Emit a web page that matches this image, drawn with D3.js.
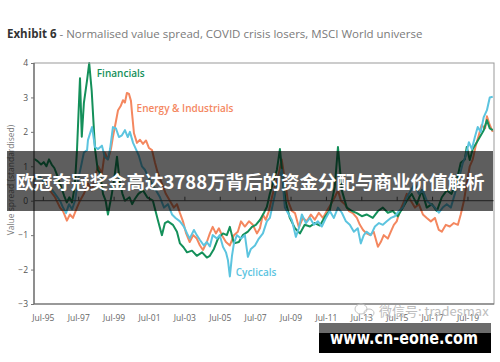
<!DOCTYPE html>
<html>
<head>
<meta charset="utf-8">
<script src="https://cdn.jsdelivr.net/npm/d3@7"></script>
<style>
body{margin:0;background:#fff;}
svg{display:block;font-family:"Open Sans",Lato,sans-serif;}
</style>
</head>
<body>
<svg id="chart" width="500" height="362"></svg>
<script>
// x ticks: July of odd years
var tickYears = [1995.5,1997.5,1999.5,2001.5,2003.5,2005.5,2007.5,2009.5,2011.5,2013.5,2015.5,2017.5,2019.5]
var tickLabels = ["Jul-95","Jul-97","Jul-99","Jul-01","Jul-03","Jul-05","Jul-07","Jul-09","Jul-11","Jul-13","Jul-15","Jul-17","Jul-19"]
var yTicks = [-3,-2,-1,0,1,2,3,4]

// [year, standardised value spread]
var financials = [[1995.0,1.22],[1995.2,1.15],[1995.4,1.05],[1995.55,1.12],[1995.7,1.0],[1995.85,1.2],[1996.0,1.05],[1996.15,0.95],[1996.3,0.75],[1996.5,0.45],[1996.7,0.15],[1996.85,-0.05],[1997.0,0.1],[1997.15,-0.05],[1997.3,0.4],[1997.43,1.47],[1997.6,3.56],[1997.7,1.86],[1997.82,2.84],[1998.0,3.5],[1998.12,4.0],[1998.26,3.2],[1998.45,1.5],[1998.6,0.9],[1998.73,0.8],[1998.9,0.2],[1999.05,0.0],[1999.18,-0.4],[1999.4,0.2],[1999.55,0.7],[1999.69,1.28],[1999.86,0.5],[2000.0,0.2],[2000.14,0.0],[2000.4,0.1],[2000.55,-0.1],[2000.7,0.05],[2000.9,0.2],[2001.16,0.3],[2001.4,0.1],[2001.72,0.0],[2002.0,-0.56],[2002.23,-1.0],[2002.4,-0.65],[2002.57,-0.6],[2002.85,-0.7],[2003.08,-0.9],[2003.25,-1.24],[2003.45,-1.35],[2003.65,-1.5],[2003.93,-1.45],[2004.2,-1.6],[2004.5,-1.5],[2004.77,-1.65],[2004.94,-1.6],[2005.17,-1.4],[2005.4,-1.1],[2005.68,-0.95],[2005.9,-1.0],[2006.07,-0.76],[2006.3,-1.24],[2006.58,-1.2],[2006.8,-1.0],[2007.09,-0.9],[2007.32,-0.76],[2007.54,-0.7],[2007.77,-0.56],[2008.0,-0.35],[2008.16,-0.18],[2008.33,0.2],[2008.56,0.6],[2008.73,0.9],[2008.9,1.5],[2009.07,0.6],[2009.24,-0.07],[2009.46,-0.5],[2009.75,-0.8],[2010.03,-0.95],[2010.3,-0.7],[2010.6,-0.75],[2010.87,-0.65],[2011.16,-0.72],[2011.44,-0.47],[2011.72,-0.27],[2012.0,0.4],[2012.18,1.56],[2012.4,0.3],[2012.68,-0.2],[2012.97,-0.3],[2013.25,-0.36],[2013.53,-0.45],[2013.8,-0.4],[2014.15,-0.5],[2014.44,-0.3],[2014.72,-0.2],[2015.0,-0.35],[2015.28,-0.3],[2015.56,-0.45],[2015.85,-0.2],[2016.07,0.0],[2016.35,0.2],[2016.64,-0.1],[2016.92,0.3],[2017.2,-0.2],[2017.49,-0.1],[2017.77,-0.3],[2018.05,0.1],[2018.33,0.3],[2018.6,0.2],[2018.9,0.6],[2019.12,1.1],[2019.35,1.2],[2019.46,1.56],[2019.63,1.18],[2019.8,1.5],[2020.03,1.7],[2020.2,1.85],[2020.42,2.05],[2020.6,2.34],[2020.76,2.1],[2020.93,2.05]]

var energyIndustrials = [[1995.0,0.5],[1995.34,0.4],[1995.62,0.6],[1995.9,0.3],[1996.19,0.1],[1996.47,-0.2],[1996.64,-0.3],[1996.86,-0.58],[1997.03,-0.4],[1997.2,-0.5],[1997.43,-0.2],[1997.6,0.0],[1997.82,0.2],[1998.05,0.5],[1998.28,0.3],[1998.45,0.7],[1998.62,1.0],[1998.84,0.8],[1999.0,1.4],[1999.18,1.2],[1999.35,1.5],[1999.46,1.85],[1999.63,2.3],[1999.75,2.63],[1999.9,2.75],[2000.03,2.92],[2000.14,2.85],[2000.25,3.13],[2000.37,3.1],[2000.48,2.9],[2000.54,2.55],[2000.65,1.96],[2000.82,1.68],[2000.99,1.77],[2001.16,1.65],[2001.33,1.75],[2001.5,1.53],[2001.67,1.47],[2001.84,1.1],[2002.0,0.8],[2002.23,0.5],[2002.45,0.2],[2002.68,0.0],[2002.9,-0.2],[2003.08,-0.1],[2003.25,-0.36],[2003.42,-0.6],[2003.6,-0.95],[2003.8,-1.2],[2004.0,-1.0],[2004.2,-1.1],[2004.38,-1.3],[2004.55,-1.43],[2004.77,-1.2],[2004.94,-0.95],[2005.1,-0.76],[2005.28,-0.95],[2005.45,-0.8],[2005.62,-1.0],[2005.85,-1.2],[2006.07,-1.3],[2006.3,-1.0],[2006.52,-0.9],[2006.7,-0.6],[2006.92,-0.75],[2007.15,-0.6],[2007.37,-0.7],[2007.6,-0.95],[2007.77,-0.8],[2007.94,-0.4],[2008.1,-0.55],[2008.28,-0.3],[2008.45,0.1],[2008.6,0.4],[2008.84,0.8],[2009.0,1.2],[2009.18,0.6],[2009.35,0.0],[2009.58,-0.3],[2009.75,-0.36],[2009.97,-0.77],[2010.2,-0.5],[2010.42,-0.6],[2010.65,-0.4],[2010.87,-0.55],[2011.1,-0.35],[2011.33,-0.5],[2011.55,-0.3],[2011.78,-0.1],[2012.0,0.1],[2012.18,0.3],[2012.35,0.0],[2012.57,-0.1],[2012.8,-0.3],[2013.02,-0.36],[2013.25,-0.5],[2013.42,-0.7],[2013.6,-0.85],[2013.8,-0.95],[2014.0,-1.0],[2014.2,-0.9],[2014.44,-1.34],[2014.6,-1.2],[2014.77,-1.0],[2015.0,-1.1],[2015.17,-0.9],[2015.34,-0.7],[2015.5,-0.6],[2015.68,-0.3],[2015.85,-0.1],[2016.07,0.2],[2016.3,0.0],[2016.53,-0.2],[2016.75,-0.1],[2016.98,-0.4],[2017.2,-0.5],[2017.43,-0.6],[2017.66,-0.5],[2017.88,-0.85],[2018.05,-0.9],[2018.28,-0.7],[2018.5,-0.75],[2018.73,-0.65],[2018.96,-0.7],[2019.12,-0.4],[2019.3,0.0],[2019.46,0.5],[2019.63,1.0],[2019.8,1.2],[2019.97,1.6],[2020.14,1.9],[2020.3,2.2],[2020.5,2.1],[2020.6,2.45],[2020.76,2.2],[2020.93,2.0]]

var cyclicals = [[1995.0,0.6],[1995.34,0.7],[1995.62,0.5],[1995.9,0.4],[1996.19,0.2],[1996.47,0.0],[1996.64,-0.2],[1996.81,-0.36],[1996.98,-0.1],[1997.15,-0.25],[1997.32,0.0],[1997.49,0.6],[1997.66,1.0],[1997.82,1.4],[1998.0,1.47],[1998.05,1.76],[1998.28,2.14],[1998.45,1.56],[1998.62,1.5],[1998.84,1.6],[1999.0,1.27],[1999.18,1.2],[1999.3,1.5],[1999.46,2.14],[1999.63,2.1],[1999.8,1.85],[1999.97,1.9],[2000.14,2.05],[2000.3,1.85],[2000.42,2.0],[2000.6,1.68],[2000.76,1.5],[2000.93,1.3],[2001.1,1.0],[2001.27,0.9],[2001.44,0.7],[2001.67,0.5],[2001.9,0.3],[2002.12,0.1],[2002.35,-0.2],[2002.57,-0.1],[2002.8,-0.4],[2003.0,-0.5],[2003.25,-0.6],[2003.47,-0.75],[2003.65,-0.95],[2003.8,-1.1],[2004.04,-0.85],[2004.2,-1.0],[2004.38,-1.14],[2004.6,-1.3],[2004.77,-1.2],[2004.94,-1.33],[2005.1,-1.0],[2005.34,-1.1],[2005.5,-1.0],[2005.68,-1.34],[2005.85,-1.5],[2005.96,-1.72],[2006.07,-2.2],[2006.19,-1.6],[2006.3,-1.24],[2006.47,-1.0],[2006.7,-1.1],[2006.92,-1.0],[2007.09,-1.63],[2007.26,-1.4],[2007.49,-1.3],[2007.71,-1.1],[2007.94,-0.95],[2008.16,-0.6],[2008.33,-0.5],[2008.5,-0.1],[2008.67,0.3],[2008.84,0.6],[2009.0,0.9],[2009.18,-0.2],[2009.4,-0.4],[2009.58,-0.57],[2009.8,-1.05],[2009.97,-0.8],[2010.14,-0.4],[2010.37,-0.65],[2010.6,-0.5],[2010.82,-0.7],[2011.05,-0.6],[2011.27,-0.75],[2011.5,-0.5],[2011.72,-0.3],[2011.95,-0.5],[2012.18,-0.2],[2012.4,-0.35],[2012.63,-0.6],[2012.85,-0.7],[2013.08,-0.9],[2013.3,-0.8],[2013.47,-1.24],[2013.64,-1.0],[2013.8,-0.9],[2014.04,-1.0],[2014.27,-0.75],[2014.5,-0.65],[2014.72,-0.7],[2014.94,-0.6],[2015.17,-0.5],[2015.4,-0.45],[2015.62,-0.3],[2015.85,-0.2],[2016.07,0.1],[2016.3,0.3],[2016.53,0.5],[2016.75,0.2],[2016.98,0.3],[2017.2,0.0],[2017.43,-0.1],[2017.66,-0.2],[2017.88,-0.35],[2018.1,-0.2],[2018.33,-0.1],[2018.56,-0.2],[2018.79,0.2],[2019.0,0.6],[2019.24,1.1],[2019.4,1.3],[2019.58,1.7],[2019.75,1.5],[2019.92,1.85],[2020.08,2.14],[2020.25,2.0],[2020.42,2.43],[2020.6,2.63],[2020.76,3.0],[2020.93,3.02]]

var seriesNames = ["Energy & Industrials","Financials","Cyclicals"]

var svg = d3.select("#chart")
var plot = {left:34, right:494, top:63, bottom:304}

var xScale = d3.scaleLinear().domain([1995,2021]).range([plot.left,plot.right])
var yScale = d3.scaleLinear().domain([-3,4]).range([plot.bottom,plot.top])

var colors = {"Financials":"#14905a","Energy & Industrials":"#f4875f","Cyclicals":"#5cc4df"}
var seriesData = {"Financials":financials,"Energy & Industrials":energyIndustrials,"Cyclicals":cyclicals}

// title
var title = svg.append("text")
    .attr("x",7)
    .attr("y",38)
    .attr("font-size",11.5)
title.append("tspan").text("Exhibit 6").attr("font-weight",700).attr("fill","#333")
title.append("tspan").text(" - Normalised value spread, COVID crisis losers, MSCI World universe").attr("fill","#7a7a7a")

// y axis
var yAxis = svg.append("g")
    .attr("transform","translate("+plot.left+",0)")
    .call(d3.axisLeft(yScale).tickValues(yTicks).tickSize(3).tickFormat(d3.format("d")))
yAxis.select(".domain").remove()
yAxis.selectAll("line").attr("stroke","#777")
yAxis.selectAll("text").attr("fill","#555").attr("font-size",8.5).attr("font-family","Open Sans")

svg.append("text")
    .text("Value spread (standardised)")
    .attr("transform","translate(14,"+(yScale(0.6))+") rotate(-90)")
    .attr("text-anchor","middle")
    .attr("font-size",8.5)
    .attr("fill","#777")

// x labels along the bottom
var xLabels = svg.append("g")
    .attr("transform","translate(0,"+plot.bottom+")")
    .call(d3.axisBottom(xScale).tickValues(tickYears).tickSize(0).tickPadding(11)
        .tickFormat(function(d,i){return tickLabels[i]}))
xLabels.select(".domain").remove()
xLabels.selectAll("text").attr("fill","#666").attr("font-size",8.5).attr("font-family","Open Sans")

// lines
var lineGenerator = d3.line()
    .x(function(d){return xScale(d[0])})
    .y(function(d){return yScale(d[1])})

svg.append("g").selectAll("path")
    .data(seriesNames)
    .enter()
    .append("path")
    .attr("d",function(name){return lineGenerator(seriesData[name])})
    .attr("fill","none")
    .attr("stroke",function(name){return colors[name]})
    .attr("stroke-width",2)
    .attr("stroke-linejoin","round")

// zero line with tick marks pointing up
var zeroAxis = svg.append("g")
    .attr("transform","translate(0,"+yScale(0)+")")
    .call(d3.axisBottom(xScale).tickValues(tickYears).tickSize(-4).tickFormat(""))
zeroAxis.select(".domain").attr("stroke","#555").attr("d","M"+plot.left+",0H"+plot.right)
zeroAxis.selectAll("line").attr("stroke","#555")

// plot frame
svg.append("rect")
    .attr("x",plot.left).attr("y",plot.top)
    .attr("width",plot.right-plot.left).attr("height",plot.bottom-plot.top)
    .attr("fill","none").attr("stroke","#999").attr("stroke-width",1)
svg.append("path")
    .attr("d","M"+plot.left+","+plot.top+"V"+plot.bottom+"H"+plot.right)
    .attr("fill","none").attr("stroke","#666").attr("stroke-width",1.2)

// series labels
var labels = [
    {name:"Financials", year:1998.55, value:3.6},
    {name:"Energy & Industrials", year:2000.8, value:2.58},
    {name:"Cyclicals", year:2006.4, value:-2.2}
]
svg.append("g").selectAll("text")
    .data(labels)
    .enter()
    .append("text")
    .text(function(d){return d.name})
    .attr("x",function(d){return xScale(d.year)})
    .attr("y",function(d){return yScale(d.value)})
    .attr("font-size",10)
    .attr("font-weight",600)
    .attr("fill",function(d){return colors[d.name]})

// overlay banner
svg.append("rect")
    .attr("x",7).attr("y",151).attr("width",486).attr("height",60)
    .attr("fill","rgba(0,0,0,0.63)")
svg.append("text")
    .text("欧冠夺冠奖金高达3788万背后的资金分配与商业价值解析")
    .attr("x",250).attr("y",189)
    .attr("text-anchor","middle")
    .attr("font-family","Noto Sans CJK SC")
    .attr("font-weight",700)
    .attr("font-size",18.5)
    .attr("fill","#fff")

// watermark
var wm = svg.append("g").attr("fill","none").attr("stroke","#c4c4c4").attr("stroke-width",1)
wm.append("ellipse").attr("cx",361).attr("cy",309).attr("rx",6).attr("ry",5)
wm.append("ellipse").attr("cx",369).attr("cy",313).attr("rx",5).attr("ry",4)
svg.append("text")
    .text("微信号: tradesmax")
    .attr("x",379).attr("y",316)
    .attr("font-family","Noto Sans CJK SC")
    .attr("font-size",13)
    .attr("fill","#bdbdbd")

// site banner
svg.append("rect").attr("x",319).attr("y",323).attr("width",172).attr("height",10).attr("fill","#6b6b6b")
svg.append("rect").attr("x",319).attr("y",333).attr("width",172).attr("height",20).attr("fill","#000")
svg.append("text")
    .text("www.cn-eone.com")
    .attr("x",404).attr("y",344)
    .attr("text-anchor","middle")
    .attr("font-family","DejaVu Sans")
    .attr("font-weight",700)
    .attr("font-size",17)
    .attr("textLength",148)
    .attr("lengthAdjust","spacingAndGlyphs")
    .attr("fill","#fff")
</script>
</body>
</html>
